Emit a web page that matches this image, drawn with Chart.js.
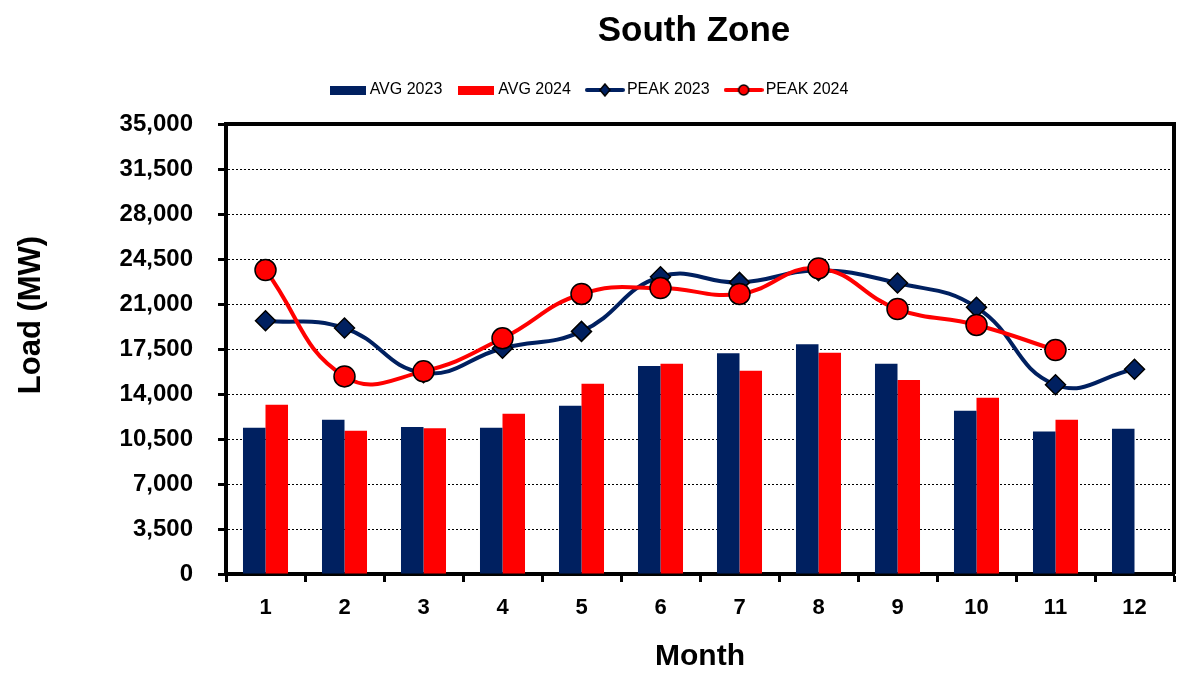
<!DOCTYPE html>
<html>
<head>
<meta charset="utf-8">
<script src="https://cdn.jsdelivr.net/npm/chart.js@4/dist/chart.umd.min.js"></script>
<style>
  body { margin: 0; background: #fff; }
  #wrap { width: 1186px; height: 675px; }
</style>
</head>
<body>
<div id="wrap"><canvas id="grafico" width="1186" height="675"></canvas></div>
<script>
// dados
const months = ['1', '2', '3', '4', '5', '6', '7', '8', '9', '10', '11', '12'];
const avg2023 = [11380, 12000, 11430, 11380, 13090, 16180, 17160, 17860, 16360, 12700, 11090, 11300];
const avg2024 = [13170, 11150, 11330, 12470, 14800, 16360, 15810, 17210, 15090, 13710, 12000, null];
const peak2023 = [19700, 19130, 15650, 17560, 18870, 23120, 22680, 23600, 22630, 20740, 14720, 15920];
const peak2024 = [23640, 15370, 15760, 18330, 21780, 22240, 21780, 23770, 20610, 19370, 17420, null];
const yTicks = [0, 3500, 7000, 10500, 14000, 17500, 21000, 24500, 28000, 31500, 35000];

const NAVY = '#002060';
const RED = '#ff0000';
const FONT = '"Liberation Sans", Arial, sans-serif';

// ícones da legenda
function iconeBarra(cor) {
  const c = document.createElement('canvas');
  c.width = 36; c.height = 9;
  const ctx = c.getContext('2d');
  ctx.fillStyle = cor;
  ctx.fillRect(0, 0, 36, 9);
  return c;
}
function iconeLinha(cor, tipo) {
  const c = document.createElement('canvas');
  c.width = 40; c.height = 14;
  const ctx = c.getContext('2d');
  ctx.strokeStyle = cor;
  ctx.lineWidth = 4;
  ctx.lineCap = 'round';
  ctx.beginPath(); ctx.moveTo(2, 7); ctx.lineTo(38, 7); ctx.stroke();
  ctx.fillStyle = cor;
  ctx.strokeStyle = '#000';
  ctx.lineWidth = 1.5;
  ctx.beginPath();
  if (tipo === 'diamond') {
    ctx.moveTo(20, 1); ctx.lineTo(25, 7); ctx.lineTo(20, 13); ctx.lineTo(15, 7); ctx.closePath();
  } else {
    ctx.arc(20, 7, 5, 0, Math.PI * 2);
  }
  ctx.fill(); ctx.stroke();
  return c;
}
const icones = [iconeBarra(NAVY), iconeBarra(RED), iconeLinha(NAVY, 'diamond'), iconeLinha(RED, 'circle')];

// moldura superior/direita, título e título do eixo Y
const moldura = {
  id: 'moldura',
  beforeDatasetsDraw(chart) {
    const { ctx, chartArea: a } = chart;
    ctx.save();
    ctx.strokeStyle = '#000';
    ctx.lineWidth = 4;
    ctx.beginPath();
    ctx.moveTo(a.left, a.top);
    ctx.lineTo(a.right, a.top);
    ctx.lineTo(a.right, a.bottom);
    ctx.stroke();
    ctx.restore();
  },
  afterDraw(chart) {
    const { ctx, chartArea: a } = chart;
    ctx.save();
    ctx.fillStyle = '#000';
    ctx.font = 'bold 35px ' + FONT;
    ctx.textAlign = 'center';
    ctx.textBaseline = 'alphabetic';
    ctx.fillText('South Zone', (a.left + a.right) / 2 - 6, 41);
    ctx.translate(31, 315);
    ctx.rotate(-Math.PI / 2);
    ctx.font = 'bold 31px ' + FONT;
    ctx.textBaseline = 'middle';
    ctx.fillText('Load (MW)', 0, 0);
    ctx.restore();
  }
};

new Chart(document.getElementById('grafico'), {
  type: 'bar',
  data: {
    labels: months,
    datasets: [
      {
        label: 'AVG 2023',
        data: avg2023,
        backgroundColor: NAVY,
        borderWidth: 0,
        categoryPercentage: 0.57,
        barPercentage: 1,
        order: 2
      },
      {
        label: 'AVG 2024',
        data: avg2024,
        backgroundColor: RED,
        borderWidth: 0,
        categoryPercentage: 0.57,
        barPercentage: 1,
        order: 2
      },
      {
        type: 'line',
        label: 'PEAK 2023',
        data: peak2023,
        borderColor: NAVY,
        backgroundColor: NAVY,
        borderWidth: 4,
        tension: 0.45,
        pointStyle: 'rectRot',
        pointRadius: 10,
        pointBorderColor: '#000',
        pointBorderWidth: 1.5,
        pointBackgroundColor: NAVY,
        order: 1
      },
      {
        type: 'line',
        label: 'PEAK 2024',
        data: peak2024,
        borderColor: RED,
        backgroundColor: RED,
        borderWidth: 4,
        tension: 0.45,
        pointStyle: 'circle',
        pointRadius: 10.5,
        pointBorderColor: '#000',
        pointBorderWidth: 1.5,
        pointBackgroundColor: RED,
        order: 0
      }
    ]
  },
  options: {
    responsive: false,
    animation: false,
    layout: { padding: { top: 62, right: 4, left: 0, bottom: 0 } },
    scales: {
      x: {
        grid: {
          offset: true,
          drawOnChartArea: false,
          tickLength: 8,
          tickWidth: 3,
          tickColor: '#000'
        },
        border: { color: '#000', width: 4 },
        ticks: {
          color: '#000',
          padding: 13,
          font: { family: FONT, size: 22, weight: 'bold' }
        },
        title: {
          display: true,
          text: 'Month',
          color: '#000',
          padding: { top: 0, bottom: 0 },
          font: { family: FONT, size: 30, weight: 'bold' }
        },
        afterFit(scale) { scale.height = 101; }
      },
      // eixo vazio só para dar espaço entre a legenda e a área do gráfico
      xEspaco: {
        type: 'category',
        position: 'top',
        grid: { display: false, drawTicks: false },
        ticks: { display: false },
        border: { display: false },
        afterFit(scale) { scale.height = 16; }
      },
      y: {
        min: 0,
        max: 35000,
        afterBuildTicks(scale) { scale.ticks = yTicks.map(v => ({ value: v })); },
        grid: {
          color: '#000',
          lineWidth: 1,
          tickLength: 8,
          tickWidth: 3,
          tickColor: '#000'
        },
        border: { color: '#000', width: 4, dash: [2, 2] },
        ticks: {
          color: '#000',
          padding: 25,
          font: { family: FONT, size: 24, weight: 'bold' },
          callback: v => v.toLocaleString('en-US')
        },
        title: { display: false },
        afterFit(scale) { scale.width = 226; }
      }
    },
    plugins: {
      title: { display: false },
      tooltip: { enabled: false },
      legend: {
        position: 'top',
        labels: {
          usePointStyle: true,
          pointStyleWidth: 28,
          padding: 20,
          color: '#000',
          font: { family: FONT, size: 16 },
          sort: (a, b) => a.datasetIndex - b.datasetIndex,
          generateLabels(chart) {
            const itens = Chart.defaults.plugins.legend.labels.generateLabels(chart);
            itens.forEach(it => { it.pointStyle = icones[it.datasetIndex]; });
            return itens;
          }
        }
      }
    }
  },
  plugins: [moldura]
});
</script>
</body>
</html>
